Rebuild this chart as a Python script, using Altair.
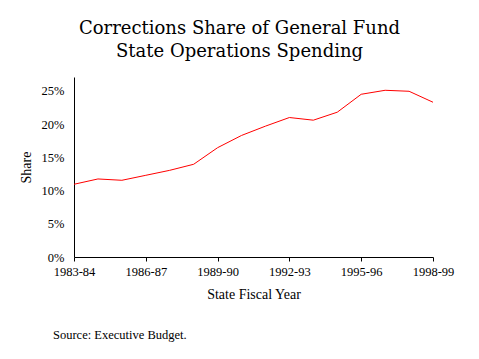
import altair as alt
import pandas as pd

years = ["1983-84", "1984-85", "1985-86", "1986-87", "1987-88", "1988-89",
         "1989-90", "1990-91", "1991-92", "1992-93", "1993-94", "1994-95",
         "1995-96", "1996-97", "1997-98", "1998-99"]
share = [0.1095, 0.1175, 0.1155, 0.123, 0.1305, 0.1396,
         0.1646, 0.183, 0.197, 0.210, 0.206, 0.218,
         0.245, 0.251, 0.2495, 0.233]
tick_years = ["1983-84", "1986-87", "1989-90", "1992-93", "1995-96", "1998-99"]
title_lines = ["Corrections Share of General Fund", "State Operations Spending"]
note = "Source:  Executive Budget."

FONT = "Liberation Serif"

df = pd.DataFrame({"year": years, "share": share})

line = alt.Chart(df).mark_line(color="#ff0000", strokeWidth=1).encode(
    x=alt.X("year:O", sort=years,
            scale=alt.Scale(type="point", padding=0),
            axis=alt.Axis(values=tick_years, labelAngle=0, title="State Fiscal Year",
                          tickSize=4, labelPadding=4, titlePadding=10,
                          domainColor="black", tickColor="black")),
    y=alt.Y("share:Q", scale=alt.Scale(domain=[0, 0.271], nice=False),
            axis=alt.Axis(values=[0, 0.05, 0.10, 0.15, 0.20, 0.25], format=".0%",
                          title="Share", ticks=False, labelPadding=10, titlePadding=8,
                          domainColor="black", grid=False)),
)

src = alt.Chart(pd.DataFrame({"t": [note]})).mark_text(
    align="left", baseline="middle", font=FONT, fontSize=12.5, color="black"
).encode(text="t:N", x=alt.value(-21), y=alt.value(258))

chart = alt.layer(line, src).properties(
    width=359, height=180,
    autosize=alt.AutoSizeParams(type="none"),
    padding={"left": 66, "top": 69, "right": 38, "bottom": 94},
    title=alt.TitleParams(text=title_lines, font="DejaVu Serif", fontSize=18, fontWeight="normal",
                          anchor="middle", dx=-14, offset=16, color="black", lineHeight=23),
).configure_view(stroke=None).configure_axis(
    labelFont=FONT, titleFont=FONT, labelFontSize=12.5, titleFontSize=14,
    titleFontWeight="normal", labelColor="black", titleColor="black", grid=False,
)

chart.save("out.html", embed_options={"renderer": "svg", "actions": False})
